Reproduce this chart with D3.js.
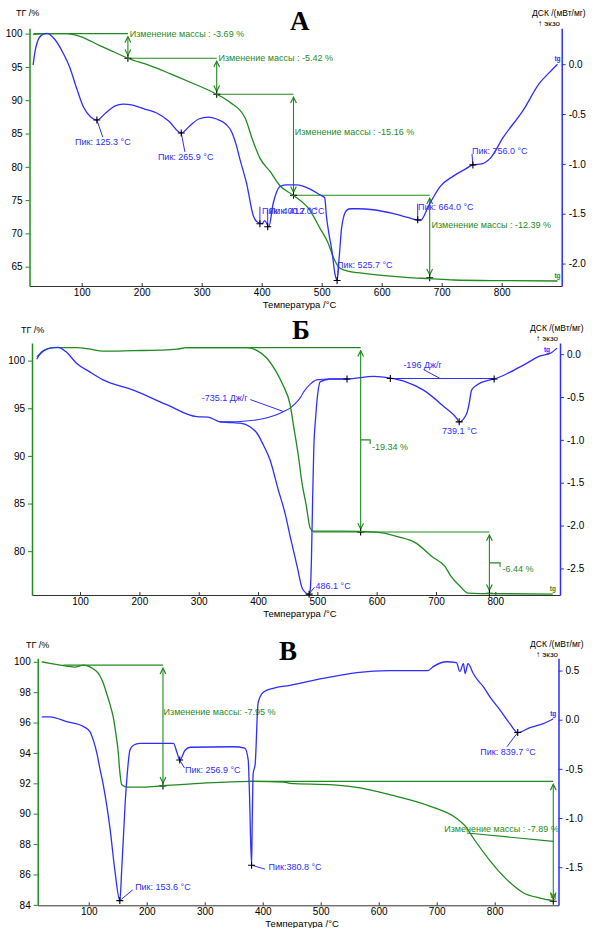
<!DOCTYPE html>
<html>
<head>
<meta charset="utf-8">
<script src="https://cdn.jsdelivr.net/npm/d3@7"></script>
<style>
  body { margin: 0; background: #fff; }
  svg { display: block; font-family: Arial, "Liberation Sans", sans-serif; }
</style>
</head>
<body>
<svg id="chart" width="592" height="928"></svg>
<script>
/* Three TG / DSC thermograms (А, Б, В) drawn with D3 */

const GREEN = '#1f8a1f';
const BLUE = '#2e2eff';

// shared temperature ticks
const tempTicks = [100, 200, 300, 400, 500, 600, 700, 800];
const tempMinor = d3.range(25, 901, 25);

// ---------- Panel А ----------
const tgA = [[19, 99.9], [40, 100], [75, 100], [97, 99.6], [130, 98.2], [155, 97.2], [177, 96.3],
  [214, 95.2], [247, 94.0], [281, 92.7], [325, 90.9], [347, 89.7], [372, 87.4], [385, 84.0],
  [397, 81.3], [414, 79.3], [430, 77.2], [453, 75.7], [480, 73.5], [497, 70.8], [511, 68.5],
  [519, 66.5], [530, 64.8], [545, 64.3], [560, 64.1], [600, 63.7], [640, 63.4], [680, 63.2],
  [720, 63.0], [800, 62.9], [893, 62.85]];
const dscA = [[19, -0.01], [22, 0.12], [27, 0.24], [33, 0.29], [42, 0.31], [55, 0.25], [70, 0.10],
  [80, -0.03], [92, -0.25], [103, -0.43], [115, -0.53], [125.3, -0.56], [140, -0.49], [155, -0.42],
  [169, -0.40], [185, -0.41], [205, -0.45], [225, -0.49], [245, -0.57], [265.9, -0.69], [280, -0.62],
  [295, -0.55], [311, -0.53], [325, -0.55], [340, -0.60], [350, -0.68], [358, -0.82], [364, -0.96],
  [375, -1.20], [386, -1.52], [392, -1.58], [400.7, -1.60], [405, -1.57], [412, -1.63], [419, -1.40],
  [425, -1.28], [430, -1.23], [440, -1.21], [458, -1.21], [480, -1.25], [497, -1.31], [505, -1.34],
  [508, -1.53], [512, -1.70], [517, -1.87], [522, -2.10], [525.7, -2.17], [529, -1.95], [533, -1.65],
  [537, -1.52], [541, -1.47], [547, -1.45], [560, -1.45], [586, -1.46], [620, -1.50], [645, -1.54],
  [664, -1.57], [680, -1.40], [697, -1.23], [720, -1.12], [740, -1.05], [752, -1.01], [767, -1.00],
  [780, -0.95], [803, -0.73], [836, -0.46], [863, -0.19], [880, -0.08], [893, 0.0]];
// mass steps: temperature of the step, TG before/after, start of the level line, label
const stepsA = [
  { t: 177, from: 100, to: 96.31, start: 20, text: 'Изменение массы : -3.69  %', lt: 180, lv: 100 },
  { t: 325, from: 96.31, to: 90.89, start: 177, text: 'Изменение массы : -5.42  %', lt: 328, lv: 96.31 },
  { t: 453, from: 90.89, to: 75.73, start: 325, text: 'Изменение массы : -15.16  %', lt: 455, lv: 85.3 },
  { t: 680, from: 75.73, to: 63.34, start: 453, text: 'Изменение массы : -12.39  %', lt: 683, lv: 71.25 }
];
const peaksA = [
  { t: 125.3, v: -0.56, text: 'Пик: 125.3  °C', lt: 89, lv: -0.78, et: 135, ev: -0.73 },
  { t: 265.9, v: -0.69, text: 'Пик: 265.9  °C', lt: 227, lv: -0.93, et: 272, ev: -0.88 },
  { t: 397, v: -1.60, text: 'Пик: 400.7  °C', lt: 400.5, lv: -1.47, et: 397, ev: -1.43 },
  { t: 410, v: -1.63, text: 'Пик: 412.0  °C', lt: 412, lv: -1.47, et: 410, ev: -1.46 },
  { t: 525.7, v: -2.17, text: 'Пик: 525.7  °C', lt: 525.5, lv: -2.01, et: 528, ev: -2.02 },
  { t: 660, v: -1.56, text: 'Пик: 664.0  °C', lt: 660.5, lv: -1.43, et: 660, ev: -1.40 },
  { t: 752, v: -1.01, text: 'Пик: 756.0  °C', lt: 750.5, lv: -0.87, et: 750.5, ev: -0.90 }
];

// ---------- Panel Б ----------
const tgB = [[27, 100.4], [41, 101.1], [55, 101.36], [94, 101.36], [117, 101.2], [139, 101.0],
  [190, 101.05], [235, 101.1], [263, 101.2], [280, 101.36], [381, 101.36], [397, 101.1], [415, 100.25],
  [429, 99.0], [443, 97.3], [454, 95.4], [460, 93.1], [468, 90.0], [474, 87.2], [481, 84.9],
  [488, 82.4], [493, 82.1], [539, 82.1], [599, 82.0], [637, 81.5], [665, 80.9], [694, 79.4],
  [715, 78.4], [726, 77.3], [741, 76.3], [754, 75.6], [775, 75.55], [897, 75.5]];
const dscB = [[27, -0.06], [36, 0.03], [49, 0.07], [63, 0.08], [76, 0.03], [94, -0.105], [117, -0.21],
  [139, -0.30], [190, -0.42], [246, -0.59], [297, -0.73], [316, -0.735], [336, -0.79], [358, -0.80],
  [370, -0.805], [387, -0.85], [398, -0.92], [409, -1.06], [420, -1.23], [434, -1.58], [446, -1.87],
  [453, -2.09], [466, -2.48], [475, -2.74], [486.1, -2.80], [488, -2.75], [490, -2.40], [492, -1.70],
  [494, -1.10], [497, -0.75], [500, -0.50], [505, -0.32], [522, -0.29], [550, -0.29], [595, -0.26],
  [623, -0.28], [648, -0.32], [679, -0.42], [713, -0.61], [735, -0.75], [739.1, -0.79], [752, -0.69],
  [756, -0.57], [760, -0.42], [769, -0.36], [791, -0.30], [798, -0.29], [825, -0.21], [848, -0.125],
  [876, -0.02], [893, 0.01], [904, 0.07]];
const baseB = [[336, -0.79], [370, -0.785], [404, -0.76], [430, -0.71], [443, -0.67], [454, -0.63],
  [465, -0.56], [471, -0.51], [477, -0.44], [488, -0.35], [499, -0.30], [520, -0.29], [550, -0.29]];
const lineB = [[623, -0.285], [798, -0.285]];
const stepsB = [
  { t: 573, from: 101.36, to: 82.02, start: 280, text: '-19.34 %', lt: 592, lv: 90.98, kv: 91.68, kt: 589 },
  { t: 790, from: 82.02, to: 75.58, start: 493, text: '-6.44 %', lt: 812, lv: 78.14, kv: 78.77, kt: 808 }
];
const peaksB = [
  { t: 336, v: -0.79, text: '-735.1 Дж/г', lt: 305, lv: -0.51, st: 387, sv: -0.53, et: 443, ev: -0.67 },
  { t: 486.1, v: -2.80, text: '486.1 °C', lt: 497, lv: -2.70, st: 487, sv: -2.79, et: 495, ev: -2.72 },
  { t: 739.1, v: -0.79, text: '739.1 °C', lt: 710, lv: -0.89, st: null },
  { t: 623, v: -0.285, text: '-196 Дж/г', lt: 645, lv: -0.125, st: 679, sv: -0.18, et: 707, ev: -0.285 }
];
const ticksB = [[550, -0.29], [798, -0.29]];

// ---------- Panel В ----------
const tgC = [[19, 100.0], [33, 99.9], [62, 99.72], [76, 99.65], [91, 99.78], [102, 99.67], [111, 99.45],
  [119, 99.1], [125, 98.6], [131, 97.9], [137, 97.15], [142, 96.4], [147, 95.2], [151, 94.0], [153, 93.0],
  [157, 91.9], [166, 91.75], [194, 91.75], [228, 91.84], [292, 92.0], [378, 92.13], [436, 92.08],
  [447, 92.0], [522, 91.9], [568, 91.7], [619, 91.25], [688, 90.5], [734, 89.7], [749, 89.2], [763, 88.4],
  [792, 86.9], [821, 85.66], [849, 84.8], [878, 84.45], [901, 84.28]];
const dscC = [[19, 0.03], [33, 0.03], [62, -0.02], [91, -0.07], [102, -0.12], [108, -0.21], [114, -0.34],
  [119, -0.49], [125, -0.66], [137, -1.12], [145, -1.53], [153.6, -1.84], [157, -1.51], [160, -1.17],
  [163, -0.83], [166, -0.58], [171, -0.31], [177, -0.26], [188, -0.24], [246, -0.24], [252, -0.33],
  [256.9, -0.41], [266, -0.31], [275, -0.28], [349, -0.275], [369, -0.29], [375, -0.41], [377, -0.72],
  [380.8, -1.48], [382, -1.00], [383.5, -0.55], [387, -0.45], [392, 0.17], [401, 0.28], [418, 0.32],
  [447, 0.35], [504, 0.42], [562, 0.48], [619, 0.50], [685, 0.50], [694, 0.54], [717, 0.59], [734, 0.58],
  [740, 0.49], [746, 0.57], [749, 0.47], [754, 0.57], [763, 0.47], [771, 0.40], [780, 0.34], [792, 0.23],
  [809, 0.10], [826, -0.04], [839.7, -0.13], [861, -0.08], [884, -0.04], [901, 0.01]];
const stepsC = [
  { t: 228, from: 99.78, to: 91.83, start: 56, text: 'Изменение массы: -7.95 %', lt: 229, lv: 96.69 },
  { t: 901, from: 92.13, to: 84.24, start: 378, text: 'Изменение массы : -7.89 %', lt: 713, lv: 89.0,
    st: 752, sv: 88.73, et: 901, ev: 88.18 }
];
const peaksC = [
  { t: 153.6, v: -1.84, text: 'Пик: 153.6 °C', lt: 180, lv: -1.70, et: 176, ev: -1.73 },
  { t: 256.9, v: -0.41, text: 'Пик: 256.9 °C', lt: 266, lv: -0.505, et: 265, ev: -0.49 },
  { t: 380.8, v: -1.48, text: 'Пик:380.8 °C', lt: 410, lv: -1.50, et: 404, ev: -1.52 },
  { t: 839.7, v: -0.13, text: 'Пик: 839.7 °C', lt: 775, lv: -0.33, et: 821, ev: -0.275 }
];

const svg = d3.select('#chart');

const defs = svg.append('defs');
[['arrG', GREEN]].forEach(([id, c]) => {
  defs.append('marker').attr('id', id)
    .attr('viewBox', '0 0 8 8').attr('refX', 7).attr('refY', 4)
    .attr('markerWidth', 7).attr('markerHeight', 7)
    .attr('orient', 'auto-start-reverse')
    .append('path').attr('d', 'M1,1L7,4L1,7').attr('fill', 'none').attr('stroke', c).attr('stroke-width', 1.2);
});

function plus(g, px, py, color) {
  g.append('path')
    .attr('d', `M${px - 3.5},${py}h7M${px},${py - 3.5}v7`)
    .attr('stroke', color || '#000').attr('stroke-width', 1.1);
}

function drawPanel(cfg) {
  const g = svg.append('g');
  const x = d3.scaleLinear(cfg.tDomain, cfg.xRange);
  const yT = d3.scaleLinear(cfg.tgDomain, cfg.yRange);
  const yD = d3.scaleLinear(cfg.dscDomain, cfg.yRange);
  const [x0, x1] = cfg.xRange;
  const [yb, yt] = cfg.yRange;

  // bottom axis
  const bx = g.append('g').attr('transform', `translate(0,${yb})`);
  bx.call(d3.axisBottom(x).tickValues(tempMinor.filter(t => t > cfg.tDomain[0] && t < cfg.tDomain[1]))
    .tickSize(-3).tickSizeOuter(0).tickFormat(''));
  bx.call(d3.axisBottom(x).tickValues(tempTicks).tickSize(-3).tickSizeOuter(0).tickPadding(3));
  bx.selectAll('path').attr('stroke', '#333');
  bx.selectAll('line').attr('stroke', '#333');
  bx.selectAll('text').attr('font-size', 10).attr('fill', '#000');

  // left TG axis
  const la = g.append('g').attr('transform', `translate(${x0},0)`);
  la.call(d3.axisLeft(yT).tickValues(cfg.tgMinor).tickSize(2).tickSizeOuter(0).tickFormat(''));
  la.call(d3.axisLeft(yT).tickValues(cfg.tgTicks).tickSize(4).tickSizeOuter(0).tickPadding(3));
  la.selectAll('path').attr('stroke', GREEN).attr('stroke-width', 1.5);
  la.selectAll('line').attr('stroke', GREEN);
  la.selectAll('text').attr('font-size', 10).attr('fill', '#000');

  // right DSC axis
  const ra = g.append('g').attr('transform', `translate(${x1},0)`);
  ra.call(d3.axisRight(yD).tickValues(cfg.dscMinor).tickSize(2).tickSizeOuter(0).tickFormat(''));
  ra.call(d3.axisRight(yD).tickValues(cfg.dscTicks).tickSize(4).tickSizeOuter(0).tickPadding(3)
    .tickFormat(d => (Math.abs(d) < 1e-9 ? 0 : d).toFixed(1)));
  ra.selectAll('path').attr('stroke', BLUE).attr('stroke-width', 1.5);
  ra.selectAll('line').attr('stroke', BLUE);
  ra.selectAll('text').attr('font-size', 10).attr('fill', '#000');

  // titles
  g.append('text').attr('x', cfg.tgTitle[0]).attr('y', cfg.tgTitle[1])
    .attr('font-size', 9).text('ТГ /%');
  g.append('text').attr('x', cfg.dscTitle[0]).attr('y', cfg.dscTitle[1])
    .attr('font-size', 8.5).text('ДСК /(мВт/мг)');
  g.append('text').attr('x', cfg.dscTitle[0] + 6).attr('y', cfg.dscTitle[1] + 10)
    .attr('font-size', 8).text('↑ экзо');
  g.append('text').attr('x', (x0 + x1) / 2 + 4).attr('y', yb + (cfg.titleDy || 22))
    .attr('text-anchor', 'middle').attr('font-size', 9.5).text('Температура /°C');
  g.append('text').attr('x', cfg.letter[0]).attr('y', cfg.letter[1])
    .attr('font-family', '"Liberation Serif", "Times New Roman", serif')
    .attr('font-weight', 'bold').attr('font-size', 27).text(cfg.letterText);

  const lineT = d3.line().x(d => x(d[0])).y(d => yT(d[1])).curve(d3.curveMonotoneX);
  const lineD = d3.line().x(d => x(d[0])).y(d => yD(d[1])).curve(d3.curveMonotoneX);

  // mass-change annotations
  const ann = g.append('g').attr('stroke', GREEN).attr('fill', 'none').attr('stroke-width', 1.1);
  cfg.steps.forEach(s => {
    ann.append('line').attr('x1', x(s.start)).attr('x2', x(s.t))
      .attr('y1', yT(s.from)).attr('y2', yT(s.from));
    ann.append('line').attr('x1', x(s.t)).attr('x2', x(s.t))
      .attr('y1', yT(s.from) + 3).attr('y2', yT(s.to) - 3)
      .attr('marker-start', 'url(#arrG)').attr('marker-end', 'url(#arrG)');
    if (s.kv !== undefined) {
      ann.append('path').attr('d', `M${x(s.t)},${yT(s.kv)}H${x(s.kt)}V${yT(s.kv) + 4}`);
    }
    if (s.st !== undefined) {
      ann.append('line').attr('x1', x(s.st)).attr('x2', x(s.et))
        .attr('y1', yT(s.sv)).attr('y2', yT(s.ev));
    }
    g.append('text').attr('x', x(s.lt)).attr('y', yT(s.lv))
      .attr('dy', '0.35em').attr('font-size', 9).attr('fill', GREEN).text(s.text);
  });
  cfg.stepMarks.forEach(m => plus(g, x(m[0]), yT(m[1])));

  // curves
  if (cfg.base) {
    g.append('path').datum(cfg.base).attr('d', lineD)
      .attr('fill', 'none').attr('stroke', BLUE).attr('stroke-width', 1.1);
  }
  if (cfg.flat) {
    g.append('path').datum(cfg.flat).attr('d', lineD)
      .attr('fill', 'none').attr('stroke', BLUE).attr('stroke-width', 1.1);
  }
  g.append('path').datum(cfg.tg).attr('d', lineT)
    .attr('fill', 'none').attr('stroke', GREEN).attr('stroke-width', 1.3);
  g.append('path').datum(cfg.dsc).attr('d', lineD)
    .attr('fill', 'none').attr('stroke', BLUE).attr('stroke-width', 1.3);

  // peaks
  cfg.peaks.forEach(p => {
    const sx = p.st !== undefined ? p.st : p.t;
    const sv = p.st !== undefined ? p.sv : p.v;
    if (p.et !== undefined && sx !== null) {
      g.append('line').attr('x1', x(sx)).attr('y1', yD(sv))
        .attr('x2', x(p.et)).attr('y2', yD(p.ev))
        .attr('stroke', BLUE).attr('stroke-width', 1);
    }
    if (!/Дж/.test(p.text)) plus(g, x(p.t), yD(p.v));
    g.append('text').attr('x', x(p.lt)).attr('y', yD(p.lv))
      .attr('dy', '0.35em').attr('font-size', 9).attr('fill', BLUE).text(p.text);
  });
  (cfg.dscMarks || []).forEach(m => plus(g, x(m[0]), yD(m[1])));

  // end glyphs
  const lastT = cfg.tg[cfg.tg.length - 1], lastD = cfg.dsc[cfg.dsc.length - 1];
  g.append('text').attr('x', x(lastT[0])).attr('y', yT(lastT[1]) - 3).attr('text-anchor', 'middle')
    .attr('font-size', 6.5).attr('font-weight', 'bold').attr('fill', GREEN).text('tg');
  g.append('text').attr('x', x(lastD[0]) - (cfg.glyphDx || 0)).attr('y', yD(lastD[1]) + (cfg.glyphDy || -3))
    .attr('text-anchor', 'middle')
    .attr('font-size', 6.5).attr('font-weight', 'bold').attr('fill', BLUE).text('tg');
}

drawPanel({
  tDomain: [13, 900], xRange: [29.5, 561.7],
  tgDomain: [62.1, 100.8], dscDomain: [-2.225, 0.36], yRange: [286, 28.3],
  tgTicks: d3.range(65, 101, 5), tgMinor: d3.range(63, 101, 1),
  dscTicks: [0, -0.5, -1, -1.5, -2], dscMinor: d3.range(-22, 4, 1).map(d => d / 10),
  tgTitle: [16, 16], dscTitle: [532, 16], letter: [290, 30], letterText: 'А',
  tg: tgA, dsc: dscA, steps: stepsA, peaks: peaksA,
  stepMarks: stepsA.map(s => [s.t, s.to])
});

drawPanel({
  tDomain: [19, 909], xRange: [32, 560],
  tgDomain: [75.4, 101.85], dscDomain: [-2.81, 0.13], yRange: [595, 343],
  tgTicks: d3.range(80, 101, 5), tgMinor: d3.range(76, 102, 1),
  dscTicks: [0, -0.5, -1, -1.5, -2, -2.5], dscMinor: d3.range(-28, 2, 1).map(d => d / 10),
  tgTitle: [21, 333], dscTitle: [530, 331], letter: [292, 339], letterText: 'Б',
  tg: tgB, dsc: dscB, base: baseB, flat: lineB, steps: stepsB, peaks: peaksB,
  stepMarks: stepsB.map(s => [s.t, s.to]), dscMarks: ticksB.concat([[623, -0.285]]),
  glyphDx: 10, glyphDy: 4
});

drawPanel({
  tDomain: [12, 910], xRange: [37.7, 558.5],
  tgDomain: [83.97, 100.23], dscDomain: [-1.888, 0.625], yRange: [905.3, 658.3],
  tgTicks: d3.range(84, 101, 2), tgMinor: d3.range(84, 100.3, 0.5),
  dscTicks: [0.5, 0, -0.5, -1, -1.5], dscMinor: d3.range(-18, 7, 1).map(d => d / 10),
  tgTitle: [26, 648], dscTitle: [530, 647], letter: [279, 660], letterText: 'В',
  tg: tgC, dsc: dscC, steps: stepsC, peaks: peaksC,
  stepMarks: stepsC.map(s => [s.t, s.to]), titleDy: 21.3
});
</script>
</body>
</html>
